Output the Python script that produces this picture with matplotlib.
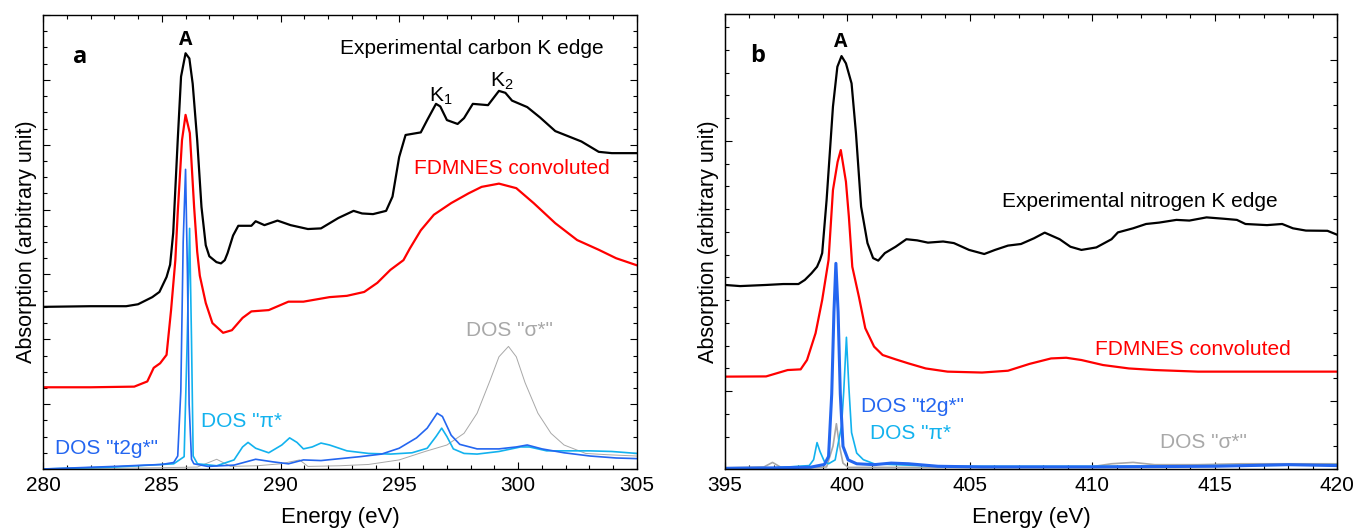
import numpy as np
import matplotlib
matplotlib.use("Agg")
import matplotlib.pyplot as plt
from matplotlib.ticker import MultipleLocator, FixedLocator, NullFormatter

plt.rcParams['font.family'] = ['Liberation Sans', 'DejaVu Sans']
plt.rcParams['mathtext.fontset'] = 'custom'
plt.rcParams['mathtext.rm'] = 'Liberation Sans'
plt.rcParams['mathtext.it'] = 'Liberation Sans:italic'

# ---------- panel a: carbon K edge ----------
c_exp_E = [280, 282, 283.5, 284.0, 284.6, 284.9, 285.2, 285.35, 285.48, 285.67, 285.81, 286.0,
           286.16, 286.3, 286.49, 286.67, 286.85, 287.0, 287.3, 287.49, 287.65, 287.77, 288.0, 288.22,
           288.77, 288.95, 289.32, 289.87, 290.42, 291.15, 291.7, 292.43, 293.07, 293.43, 293.89,
           294.44, 294.71, 294.99, 295.26, 295.9, 296.17, 296.54, 296.72, 297.0, 297.45, 297.72,
           298.09, 298.73, 299.19, 299.46, 299.74, 300.38, 300.92, 301.56, 302.66, 303.39, 303.94, 305]
c_exp_v = [2.50, 2.51, 2.51, 2.54, 2.65, 2.73, 2.96, 3.15, 3.64, 5.07, 6.05, 6.41,
           6.33, 5.94, 5.07, 4.04, 3.45, 3.28, 3.19, 3.17, 3.22, 3.33, 3.60, 3.75,
           3.75, 3.82, 3.76, 3.83, 3.76, 3.70, 3.71, 3.87, 3.98, 3.94, 3.93,
           3.98, 4.20, 4.81, 5.15, 5.19, 5.38, 5.63, 5.59, 5.38, 5.32, 5.41,
           5.63, 5.61, 5.83, 5.80, 5.68, 5.58, 5.42, 5.21, 5.05, 4.89, 4.87, 4.87]

c_fd_E = [280, 282, 283.84, 284.39, 284.66, 284.93, 285.2, 285.39, 285.57, 285.67, 285.85, 286.0,
          286.18, 286.36, 286.49, 286.6, 286.85, 287.13, 287.58, 287.95, 288.4, 288.77, 289.5,
          290.33, 290.96, 292.06, 292.79, 293.52, 294.07, 294.62, 295.17, 295.44, 295.9, 296.45,
          297.18, 297.91, 298.46, 299.19, 299.92, 300.65, 301.56, 302.48, 303.39, 304.12, 305]
c_fd_v = [1.26, 1.26, 1.27, 1.35, 1.56, 1.63, 1.76, 2.45, 3.22, 3.95, 5.07, 5.46,
          5.18, 4.04, 3.35, 2.98, 2.56, 2.25, 2.10, 2.14, 2.33, 2.43, 2.45,
          2.58, 2.58, 2.65, 2.67, 2.73, 2.87, 3.07, 3.22, 3.40, 3.68, 3.92,
          4.10, 4.25, 4.35, 4.40, 4.33, 4.10, 3.79, 3.53, 3.38, 3.25, 3.14]

c_t2g_E = [280, 283, 285.0, 285.5, 285.67, 285.8, 285.9, 286.0, 286.08, 286.15, 286.25, 286.35,
           286.94, 288.04, 288.95, 289.68, 290.33, 290.96, 291.7, 292.24, 293.34, 294.25, 294.99,
           295.72, 296.17, 296.59, 296.81, 297.18, 297.54, 298.27, 299.19, 299.92, 300.38, 301.0,
           301.93, 303.03, 304.12, 305]
c_t2g_v = [0.0, 0.04, 0.07, 0.10, 0.20, 1.20, 3.50, 4.62, 3.00, 1.00, 0.15, 0.08,
           0.04, 0.06, 0.15, 0.11, 0.08, 0.14, 0.13, 0.15, 0.19, 0.23, 0.32,
           0.48, 0.63, 0.86, 0.81, 0.52, 0.38, 0.31, 0.31, 0.34, 0.37, 0.31,
           0.25, 0.20, 0.17, 0.16]

c_pi_E = [280, 283, 285.5, 285.94, 286.07, 286.17, 286.25, 286.32, 286.5, 287.31, 288.04, 288.4,
          288.63, 288.95, 289.5, 290.05, 290.38, 290.69, 290.96, 291.33, 291.7, 292.06, 292.79,
          293.7, 294.62, 295.53, 296.17, 296.54, 296.78, 297.0, 297.27, 297.72, 298.27, 299.19,
          300.1, 300.47, 301.2, 302.0, 303.0, 303.94, 305]
c_pi_v = [0.0, 0.03, 0.08, 0.19, 2.00, 3.71, 2.00, 0.20, 0.08, 0.05, 0.14, 0.34,
          0.41, 0.32, 0.25, 0.37, 0.48, 0.41, 0.31, 0.34, 0.40, 0.37, 0.28,
          0.24, 0.23, 0.25, 0.32, 0.50, 0.63, 0.50, 0.31, 0.24, 0.23, 0.27,
          0.34, 0.34, 0.28, 0.28, 0.28, 0.27, 0.24]

c_sig_E = [280, 285, 286.5, 287.31, 287.9, 289.0, 290.0, 290.8, 291.15, 292.5, 293.7, 294.99,
           296.08, 297.0, 297.72, 298.27, 298.82, 299.19, 299.59, 299.92, 300.29, 300.83, 301.38,
           301.93, 302.84, 303.76, 305]
c_sig_v = [0.0, 0.02, 0.03, 0.15, 0.04, 0.05, 0.08, 0.14, 0.04, 0.05, 0.07, 0.14,
           0.27, 0.37, 0.55, 0.86, 1.37, 1.73, 1.89, 1.73, 1.33, 0.86, 0.55,
           0.37, 0.24, 0.22, 0.20]

# ---------- panel b: nitrogen K edge ----------
n_exp_E = [395, 395.62, 396.68, 397.38, 398.0, 398.26, 398.53, 398.76, 398.88, 398.97, 399.15, 399.41,
           399.59, 399.76, 399.94, 400.17, 400.35, 400.56, 400.82, 401.05, 401.26, 401.53, 401.97,
           402.41, 402.85, 403.29, 403.91, 404.35, 404.97, 405.59, 406.03, 406.56, 407.09, 407.62,
           408.06, 408.67, 409.11, 409.56, 410.17, 410.79, 411.05, 411.67, 412.2, 412.73, 413.44,
           413.97, 414.67, 415.38, 415.91, 416.26, 417.14, 417.76, 418.2, 418.73, 419.61, 420]
n_exp_v = [8.09, 8.04, 8.09, 8.13, 8.13, 8.31, 8.60, 8.89, 9.19, 9.49, 11.82, 15.93,
           17.68, 18.15, 17.83, 16.95, 14.76, 11.53, 9.93, 9.27, 9.16, 9.49, 9.77,
           10.10, 10.05, 9.95, 10.00, 9.93, 9.63, 9.45, 9.63, 9.82, 9.89, 10.14,
           10.39, 10.10, 9.77, 9.63, 9.74, 10.10, 10.40, 10.58, 10.77, 10.83, 10.95,
           10.92, 11.06, 11.00, 10.95, 10.77, 10.72, 10.77, 10.58, 10.48, 10.47, 10.30]

n_fd_E = [395, 396.68, 397.12, 397.56, 398.09, 398.35, 398.7, 398.97, 399.23, 399.41, 399.6, 399.73,
          399.94, 400.06, 400.2, 400.47, 400.73, 401.09, 401.44, 401.97, 402.5, 403.2, 404.09,
          405.5, 406.56, 407.44, 408.32, 408.94, 409.56, 410.44, 411.5, 412.55, 414.32, 416.08, 420]
n_fd_v = [4.06, 4.07, 4.21, 4.35, 4.38, 4.79, 5.97, 7.43, 9.19, 12.26, 13.5, 14.02,
          12.63, 11.09, 8.89, 7.57, 6.19, 5.38, 5.01, 4.82, 4.64, 4.42, 4.28,
          4.24, 4.32, 4.62, 4.86, 4.89, 4.79, 4.57, 4.42, 4.35, 4.28, 4.28, 4.28]

n_t2g_E = [395, 397.0, 398.5, 399.06, 399.23, 399.36, 399.45, 399.53, 399.62, 399.71, 399.82, 400.03,
           400.38, 401.09, 401.79, 402.5, 403.7, 405.5, 410.0, 415.0, 418.0, 420]
n_t2g_v = [0.03, 0.05, 0.08, 0.20, 0.55, 3.30, 6.90, 9.04, 6.90, 3.30, 1.00, 0.40,
           0.23, 0.19, 0.26, 0.23, 0.12, 0.09, 0.09, 0.12, 0.19, 0.15]

n_pi_E = [395, 397.0, 398.44, 398.62, 398.76, 398.88, 399.06, 399.23, 399.5, 399.76, 399.85, 399.96,
          400.06, 400.17, 400.38, 400.65, 401.09, 401.97, 403.7, 407.2, 410.7, 416.0, 420]
n_pi_v = [0.02, 0.05, 0.15, 0.41, 1.16, 0.77, 0.33, 0.23, 0.40, 1.90, 3.40, 5.79,
          3.60, 1.60, 0.70, 0.41, 0.23, 0.19, 0.12, 0.12, 0.12, 0.15, 0.19]

n_sig_E = [395, 396.59, 396.94, 397.29, 398.3, 399.15, 399.41, 399.55, 399.68, 399.82, 400.03, 403.7,
           409.91, 410.79, 411.67, 412.55, 414.3, 416.1, 417.9, 420]
n_sig_v = [0.05, 0.09, 0.29, 0.07, 0.05, 0.09, 1.00, 1.99, 1.00, 0.26, 0.07, 0.07,
           0.09, 0.23, 0.29, 0.19, 0.19, 0.23, 0.23, 0.23]

col_t2g = '#2466f0'
col_pi = '#12b2ee'
col_sig = '#a8a8a8'
ylabel = 'Absorption (arbitrary unit)'
xlabel = 'Energy (eV)'

fig = plt.figure(figsize=(13.57, 5.31), dpi=100)
axa = fig.add_axes([43/1357, 62/531, 594/1357, 454/531])
axb = fig.add_axes([725/1357, 62/531, 612/1357, 455/531])

# panel a
axa.plot(c_sig_E, c_sig_v, color=col_sig, lw=0.7)
axa.plot(c_pi_E, c_pi_v, color=col_pi, lw=1.2)
axa.plot(c_t2g_E, c_t2g_v, color=col_t2g, lw=1.2)
axa.plot(c_fd_E, c_fd_v, color='red', lw=1.6)
axa.plot(c_exp_E, c_exp_v, color='black', lw=1.6)
axa.set_xlim(280, 305)
axa.set_ylim(0, 7)
axa.yaxis.set_major_locator(MultipleLocator(1))
axa.yaxis.set_minor_locator(MultipleLocator(0.25))
axa.yaxis.set_major_formatter(NullFormatter())
axa.tick_params(axis='y', which='both', left=True, right=True)

axa.text(281.56, 6.35, 'a', fontsize=17, fontweight='bold', family='Open Sans', ha='center', va='center')
axa.text(286.02, 6.61, 'A', fontsize=14, fontweight='bold', family='Open Sans', ha='center', va='center')
axa.text(292.5, 6.49, 'Experimental carbon K edge', fontsize=15, va='center')
axa.text(296.25, 5.74, r'K$_{\mathrm{1}}$', fontsize=15, va='center')
axa.text(298.8, 5.97, r'K$_{\mathrm{2}}$', fontsize=15, va='center')
axa.text(295.6, 4.64, 'FDMNES convoluted', fontsize=15, color='red', va='center')
axa.text(297.8, 2.14, 'DOS "σ*"', fontsize=15, color=col_sig, va='center')
axa.text(286.65, 0.74, 'DOS "π*', fontsize=15, color=col_pi, va='center')
axa.text(280.5, 0.32, 'DOS "t2g*"', fontsize=15, color=col_t2g, va='center')

# panel b
axb.plot(n_sig_E, n_sig_v, color=col_sig, lw=1.2)
axb.plot(n_pi_E, n_pi_v, color=col_pi, lw=1.2)
axb.plot(n_t2g_E, n_t2g_v, color=col_t2g, lw=2.2)
axb.plot(n_fd_E, n_fd_v, color='red', lw=1.6)
axb.plot(n_exp_E, n_exp_v, color='black', lw=1.6)
axb.set_xlim(395, 420)
axb.set_ylim(0, 20)
axb.yaxis.set_major_locator(FixedLocator([3.42, 14.42]))
axb.yaxis.set_minor_locator(FixedLocator(list(np.arange(1.42, 20, 1.0))))
axb.yaxis.set_major_formatter(NullFormatter())
axb2 = axb.twinx()
axb2.set_ylim(0, 20)
axb2.yaxis.set_major_locator(FixedLocator([3, 8, 13, 18]))
axb2.yaxis.set_minor_locator(MultipleLocator(1))
axb2.yaxis.set_major_formatter(NullFormatter())
axb2.tick_params(axis='y', which='major', direction='in', length=5, width=0.8)
axb2.tick_params(axis='y', which='minor', direction='in', length=3, width=0.8)

axb.text(396.35, 18.15, 'b', fontsize=17, fontweight='bold', family='Open Sans', ha='center', va='center')
axb.text(399.74, 18.77, 'A', fontsize=14, fontweight='bold', family='Open Sans', ha='center', va='center')
axb.text(406.32, 11.74, 'Experimental nitrogen K edge', fontsize=15, va='center')
axb.text(410.13, 5.27, 'FDMNES convoluted', fontsize=15, color='red', va='center')
axb.text(400.54, 2.73, 'DOS "t2g*"', fontsize=15, color=col_t2g, va='center')
axb.text(400.92, 1.54, 'DOS "π*', fontsize=15, color=col_pi, va='center')
axb.text(412.75, 1.16, 'DOS "σ*"', fontsize=15, color=col_sig, va='center')

for ax in (axa, axb):
    ax.xaxis.set_major_locator(MultipleLocator(5))
    ax.xaxis.set_minor_locator(MultipleLocator(1))
    ax.tick_params(axis='both', which='both', direction='in', top=True, width=0.8)
    ax.tick_params(which='major', length=5)
    ax.tick_params(which='minor', length=3)
    ax.tick_params(axis='x', labelsize=15, pad=5)
    ax.set_xlabel(xlabel, fontsize=16, labelpad=9)
    ax.set_ylabel(ylabel, fontsize=15.5, labelpad=1)
    for s in ax.spines.values():
        s.set_linewidth(1.0)

fig.savefig('out.png', dpi=100)
